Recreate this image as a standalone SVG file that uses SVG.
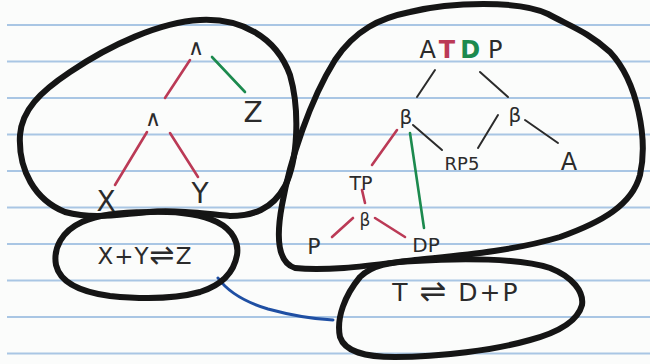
<svg xmlns="http://www.w3.org/2000/svg" width="650" height="364" viewBox="0 0 650 364">
<style>
.paper{stroke:#a9c6e4;stroke-width:1.8;fill:none}
.blob{fill:none;stroke:#151515;stroke-width:6;stroke-linejoin:round;stroke-linecap:round}
.t{font-family:"DejaVu Sans","Liberation Sans",sans-serif;fill:#2b2b2b;text-anchor:middle}
.e{fill:none;stroke-width:2.6;stroke-linecap:round}
.k{stroke:#2b2b2b;stroke-width:2}
.r{stroke:#bb3a56}
.g{stroke:#1c8a4e}
.b{stroke:#1f4fa3;stroke-width:3}
</style>
<rect width="650" height="364" fill="#fbfcfb"/>
<g id="paper">
<line class="paper" x1="7" y1="25" x2="650" y2="25"/>
<line class="paper" x1="7" y1="61.5" x2="650" y2="61.5"/>
<line class="paper" x1="7" y1="98" x2="650" y2="98"/>
<line class="paper" x1="7" y1="134.5" x2="650" y2="134.5"/>
<line class="paper" x1="7" y1="171" x2="650" y2="171"/>
<line class="paper" x1="7" y1="207.5" x2="650" y2="207.5"/>
<line class="paper" x1="7" y1="244" x2="650" y2="244"/>
<line class="paper" x1="7" y1="280.5" x2="650" y2="280.5"/>
<line class="paper" x1="7" y1="317" x2="650" y2="317"/>
<line class="paper" x1="7" y1="353.5" x2="650" y2="353.5"/>
</g>
<g id="connectors">
<line class="e r" x1="190" y1="60" x2="165" y2="98"/>
<line class="e g" x1="212" y1="57" x2="245" y2="92"/>
<line class="e r" x1="147" y1="132" x2="115" y2="185"/>
<line class="e r" x1="170" y1="133" x2="198" y2="177"/>
<line class="e k" x1="435" y1="70" x2="417" y2="97"/>
<line class="e k" x1="480" y1="72" x2="508" y2="97"/>
<line class="e r" x1="397" y1="130" x2="372" y2="165"/>
<line class="e g" x1="410" y1="133" x2="424" y2="228"/>
<line class="e k" x1="413" y1="125" x2="442" y2="150"/>
<line class="e k" x1="498" y1="115" x2="478" y2="148"/>
<line class="e k" x1="525" y1="120" x2="558" y2="143"/>
<line class="e r" x1="362" y1="190" x2="365" y2="203"/>
<line class="e r" x1="353" y1="218" x2="332" y2="237"/>
<line class="e r" x1="375" y1="218" x2="405" y2="237"/>
<path class="e b" d="M218,278 C228,292 245,302 268,309 C290,315 310,319 333,320"/>
</g>
<g id="left-blob">
<path class="blob" d="M200,20 C240,18 276,36 290,75 C300,110 298,160 285,186 C272,210 252,216 230,216 C200,213 172,210 150,212 C120,214 95,220 65,212 C35,200 18,170 20,135 C22,110 40,92 70,72 C110,45 160,22 200,20 Z"/>
</g>
<g id="eq-left">
<path class="blob" d="M147,212 C175,211 200,214 217,222 C233,230 239,243 237,255 C234,272 222,285 200,292 C175,299 140,299 110,296 C80,292 60,282 56,265 C53,248 62,231 82,222 C100,214 122,212 147,212 Z"/>
<text class="t" x="145" y="264" font-size="23" letter-spacing="1"><tspan>X+Y</tspan><tspan font-size="30" dy="1">⇌</tspan><tspan dy="-1">Z</tspan></text>
</g>
<g id="right-blob">
<path class="blob" d="M410,12 C450,2 520,0 548,14 C572,27 588,32 610,52 C638,82 648,140 640,175 C632,205 602,222 560,237 C510,252 452,256 415,260 C380,264 330,272 295,268 C276,262 277,232 282,205 C290,160 310,100 335,60 C355,30 380,18 410,12 Z"/>
</g>
<g id="eq-right">
<path class="blob" d="M415,261 C460,258 520,258 550,268 C573,277 584,292 582,305 C578,320 560,332 530,340 C495,350 440,357 395,357 C365,357 345,352 340,337 C336,318 345,295 360,277 C372,265 390,262 415,261 Z"/>
<text class="t" x="456" y="301" font-size="25" letter-spacing="2"><tspan>T </tspan><tspan font-size="32" dy="1">⇌</tspan><tspan dy="-1"> D+P</tspan></text>
</g>
<g id="n-and-top"><text class="t" x="196" y="55" font-size="22">∧</text></g>
<g id="n-and-mid"><text class="t" x="153" y="126" font-size="22">∧</text></g>
<g id="n-z"><text class="t" x="253" y="122" font-size="28">Z</text></g>
<g id="n-x"><text class="t" x="106" y="211" font-size="28">X</text></g>
<g id="n-y"><text class="t" x="200" y="203" font-size="28">Y</text></g>
<g id="n-atdp"><text class="t" x="461" y="58" font-size="24"><tspan>A</tspan><tspan fill="#bb3a56" font-weight="bold" dx="3">T</tspan><tspan fill="#1c8a4e" font-weight="bold" dx="5">D</tspan><tspan dx="8">P</tspan></text></g>
<g id="n-beta-left"><text class="t" x="406" y="124" font-size="20">β</text></g>
<g id="n-beta-right"><text class="t" x="515" y="122" font-size="20">β</text></g>
<g id="n-rp5"><text class="t" x="462" y="170" font-size="18">RP5</text></g>
<g id="n-a"><text class="t" x="569" y="170" font-size="24">A</text></g>
<g id="n-tp"><text class="t" x="361" y="190" font-size="19">TP</text></g>
<g id="n-beta-small"><text class="t" x="365" y="226" font-size="17">β</text></g>
<g id="n-p"><text class="t" x="314" y="254" font-size="22">P</text></g>
<g id="n-dp"><text class="t" x="426" y="252" font-size="20">DP</text></g>
</svg>
